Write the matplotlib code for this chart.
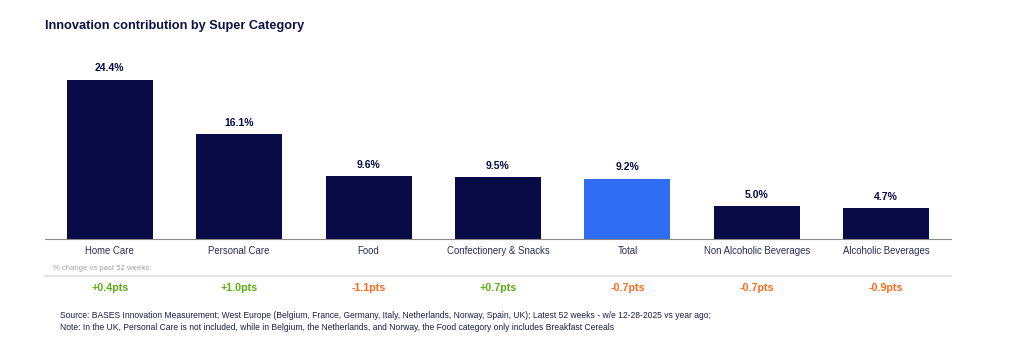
import numpy as np
import matplotlib.pyplot as plt

plt.rcParams['font.family'] = ['Liberation Sans', 'DejaVu Sans']

categories = ['Home Care', 'Personal Care', 'Food', 'Confectionery & Snacks',
              'Total', 'Non Alcoholic Beverages', 'Alcoholic Beverages']
contribution = [24.4, 16.1, 9.6, 9.5, 9.2, 5.0, 4.7]
change_pts = [0.4, 1.0, -1.1, 0.7, -0.7, -0.7, -0.9]

navy = '#080b45'
blue = '#2f6ef2'
green = '#5aad12'
orange = '#ff6a1e'

W, H = 1023, 341
fig = plt.figure(figsize=(W / 100, H / 100), dpi=100)

# axes box in pixels: x 45..951, y 60..239
left, right, top, bottom = 45, 951, 60, 239
ax = fig.add_axes([left / W, 1 - bottom / H, (right - left) / W, (bottom - top) / H])

x = np.arange(len(categories))
colors = [blue if c == 'Total' else navy for c in categories]
ax.bar(x, contribution, width=0.665, color=colors, zorder=2)
for xi, v in zip(x, contribution):
    ax.text(xi, v + 1.0, f'{v:.1f}%', ha='center', va='bottom',
            fontsize=7.5, fontweight='bold', color=navy)

ax.set_xlim(-0.5, 6.5)
ax.set_ylim(0, 179 / 6.52)
for s in ['top', 'right', 'left']:
    ax.spines[s].set_visible(False)
ax.spines['bottom'].set_color('#8a8a8a')
ax.spines['bottom'].set_linewidth(0.8)
ax.set_yticks([])
ax.set_xticks(x)
ax.set_xticklabels(categories, fontsize=6.9, color='#2a2d55')
ax.tick_params(axis='x', length=0, pad=5)

# change row under the chart
def ypix(p):
    return 1 - p / H

def xpix(i):
    return (left + (i + 0.5) * (right - left) / 7) / W

fig.text(53 / W, ypix(268), '% change vs past 52 weeks:', fontsize=5.6,
         color='#a0a0a0', va='center')
fig.add_artist(plt.Line2D([left / W, right / W], [ypix(276), ypix(276)],
                          color='#e2e2e2', linewidth=1.2))
for i, c in enumerate(change_pts):
    fig.text(xpix(i), ypix(288), f'{c:+.1f}pts', ha='center', va='center',
             fontsize=7.7, fontweight='bold', color=green if c > 0 else orange)

fig.text(45 / W, ypix(26), 'Innovation contribution by Super Category',
         fontsize=9.15, fontweight='bold', color='#0d1147', va='center')

fig.text(60 / W, ypix(316),
         'Source: BASES Innovation Measurement; West Europe (Belgium, France, Germany, Italy, Netherlands, Norway, Spain, UK); '
         'Latest 52 weeks - w/e 12-28-2025 vs year ago;',
         fontsize=6.15, color='#1a1d45', va='center')
fig.text(60 / W, ypix(328),
         'Note: In the UK, Personal Care is not included, while in Belgium, the Netherlands, and Norway, '
         'the Food category only includes Breakfast Cereals',
         fontsize=6.15, color='#1a1d45', va='center')

fig.savefig('out.png', dpi=100)
